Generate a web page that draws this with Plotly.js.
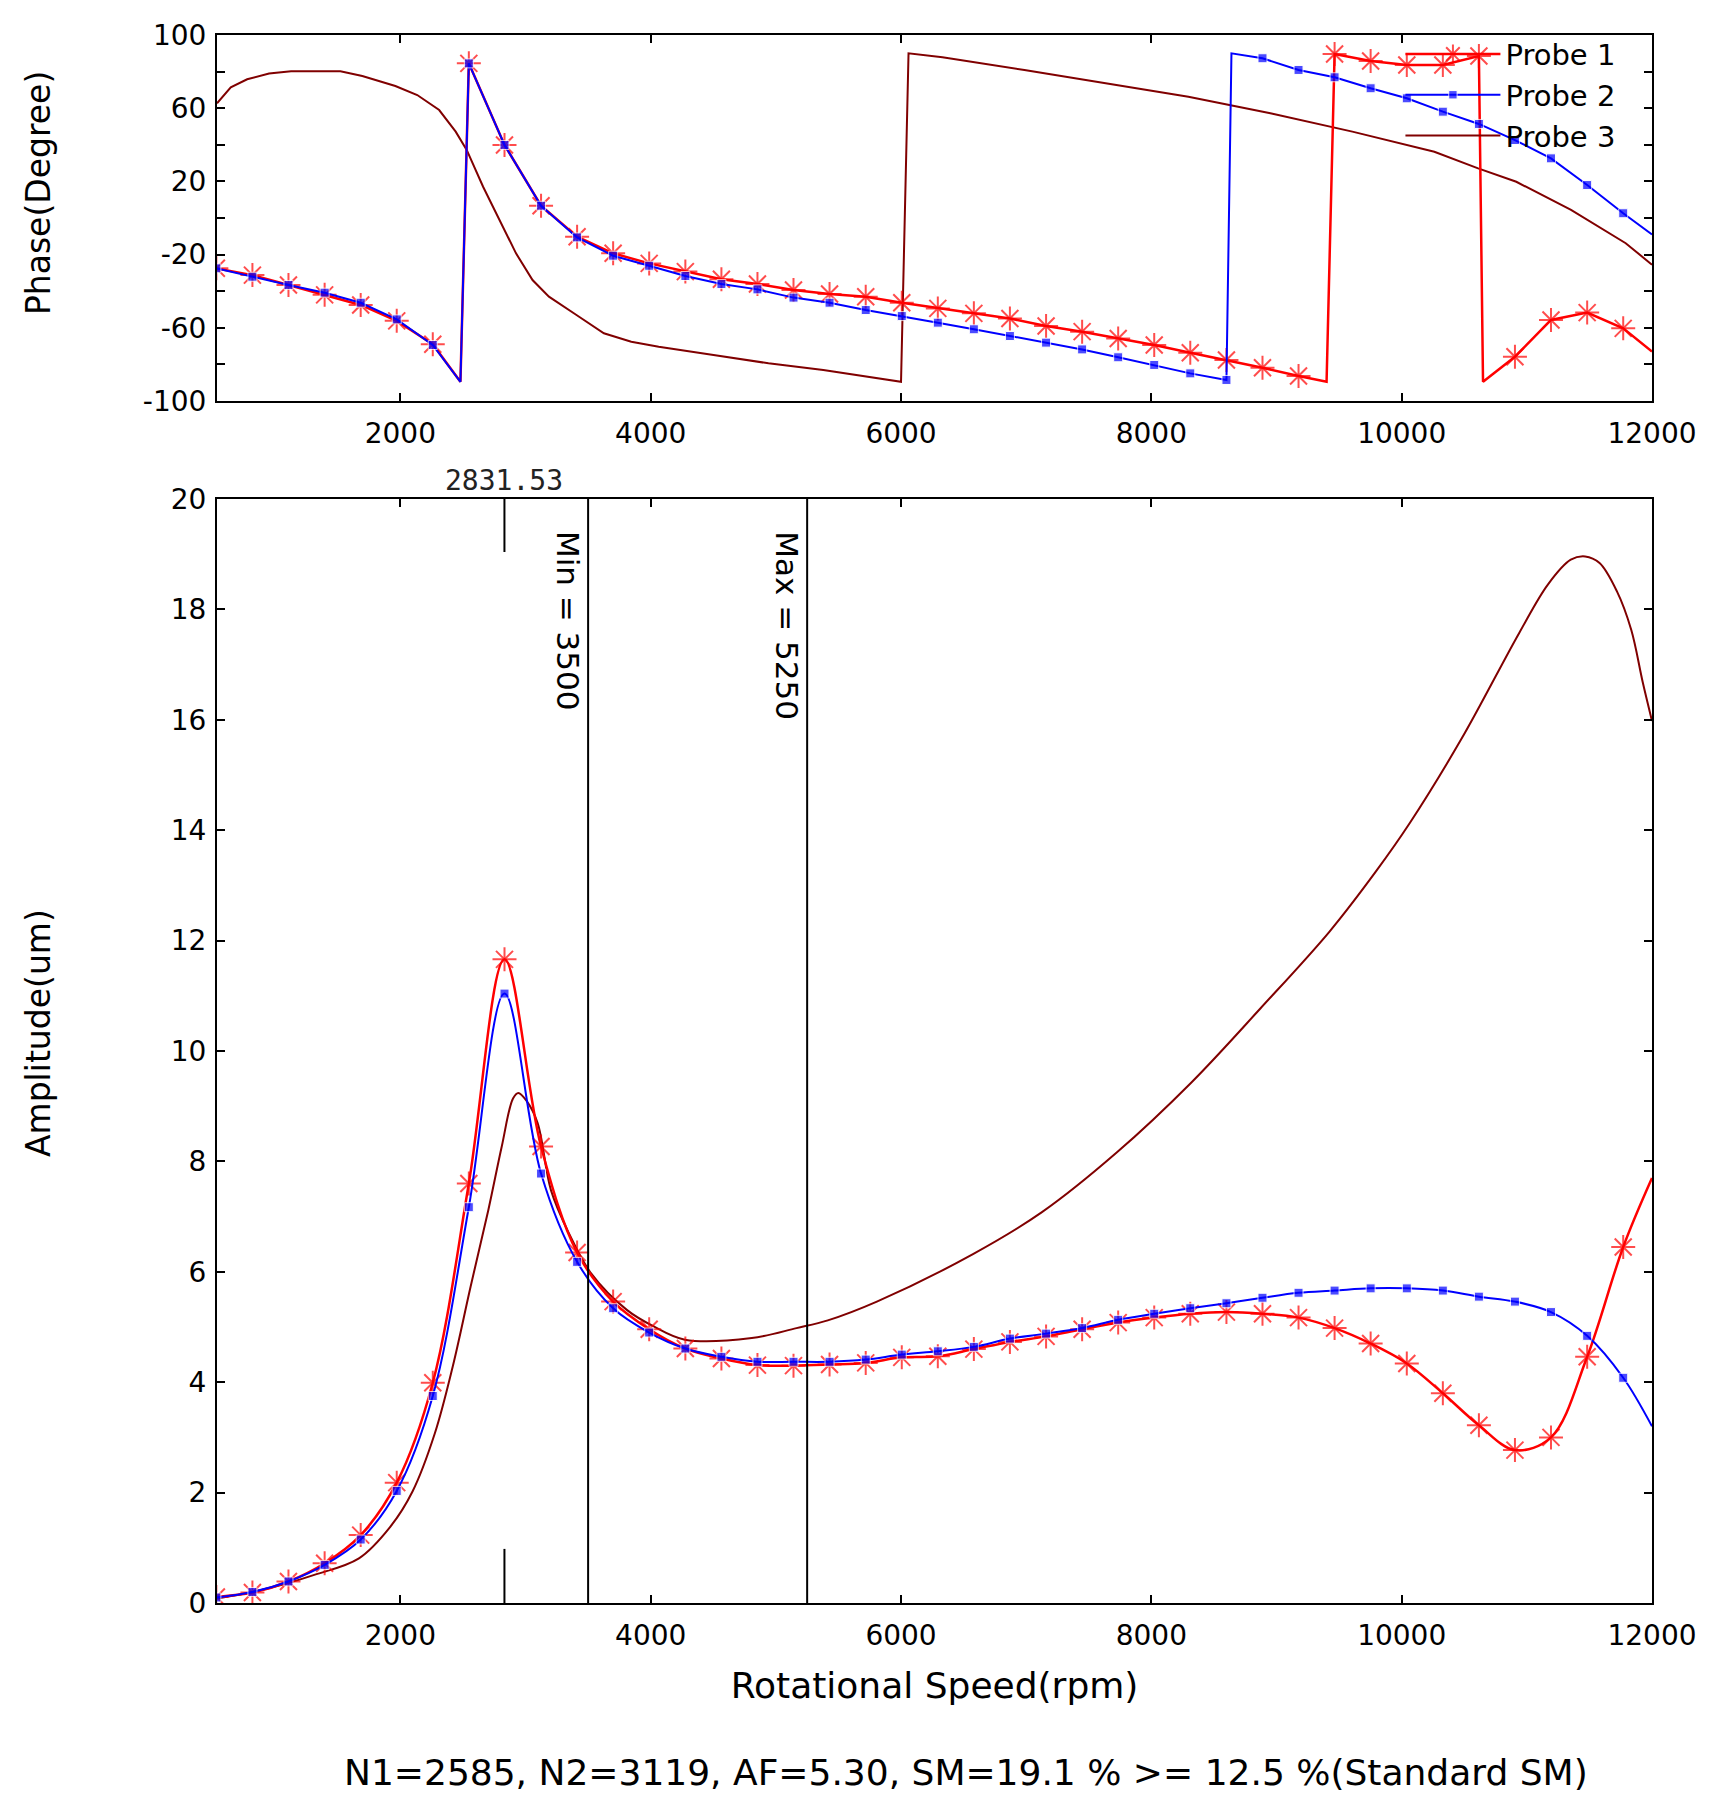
<!DOCTYPE html>
<html>
<head>
<meta charset="utf-8">
<script src="https://cdn.plot.ly/plotly-3.0.1.min.js"></script>
<style>
  body { margin: 0; background: #fff; }
  #graph { width: 1717px; height: 1811px; }
</style>
</head>
<body>
<div id="graph"></div>
<script>
/* ----------------Data---------------- */

// speeds (rpm) where probe 1 and probe 2 have markers
var markerRpm = [530, 818, 1106, 1395, 1683, 1971, 2259, 2547, 2832, 3124,
    3412, 3700, 3988, 4277, 4565, 4853, 5141, 5429, 5718, 6006,
    6294, 6582, 6870, 7159, 7447, 7735, 8023, 8311, 8600, 8888,
    9176, 9464, 9752, 10041, 10329, 10617, 10905, 11193, 11482, 11770];

var phase1 = [-27.5, -31.2, -36.6, -42.0, -47.5, -56.2, -69.0, 84.5, 39.9, 6.7,
    -10.2, -19.3, -24.8, -29.3, -33.5, -36.1, -39.3, -41.5, -43.0, -46.3,
    -49.4, -52.1, -54.9, -59.0, -62.1, -65.8, -69.4, -73.6, -77.6, -81.8,
    -86.3, 89.6, 85.8, 83.6, 83.6, 88.5, -75.8, -55.7, -51.7, -60.3];
var phase2 = [-27.5, -32.1, -36.6, -40.8, -46.3, -55.4, -69.4, 84.5, 39.9, 6.7,
    -10.6, -20.6, -26.1, -31.7, -36.1, -39.0, -43.5, -46.3, -50.3, -53.6,
    -57.2, -60.8, -64.5, -68.1, -71.8, -76.1, -80.3, -84.9, -88.5, 87.3,
    80.9, 76.9, 70.9, 65.4, 58.1, 51.4, 42.6, 32.6, 18.0, 2.6];

var amp1 = [0.11, 0.19, 0.39, 0.72, 1.23, 2.18, 3.99, 7.60, 11.66, 8.27,
    6.35, 5.46, 4.96, 4.61, 4.43, 4.31, 4.30, 4.32, 4.35, 4.45,
    4.47, 4.60, 4.73, 4.83, 4.96, 5.08, 5.17, 5.24, 5.27, 5.24,
    5.17, 4.98, 4.70, 4.34, 3.80, 3.22, 2.77, 3.00, 4.46, 6.45];
var amp2 = [0.10, 0.20, 0.39, 0.69, 1.15, 2.03, 3.75, 7.17, 11.04, 7.78,
    6.18, 5.34, 4.90, 4.61, 4.46, 4.37, 4.37, 4.37, 4.41, 4.50,
    4.56, 4.64, 4.79, 4.88, 4.98, 5.13, 5.24, 5.34, 5.43, 5.53,
    5.62, 5.66, 5.70, 5.70, 5.66, 5.55, 5.46, 5.27, 4.84, 4.08];

// line points with no marker: phase wrap corners and the line ends
var phase1ExtraRpm = [2480, 9400, 10650, 12000];
var phase1Extra = [-89.5, -89.5, -89.5, -73];
var phase2ExtraRpm = [2480, 8640, 12000];
var phase2Extra = [-89.5, 90, -9];
var amp1ExtraRpm = [12000];
var amp1Extra = [7.7];
var amp2ExtraRpm = [12000];
var amp2Extra = [3.2];

// probe 3 has no markers
var phase3Rpm = [535, 645, 776, 951, 1127, 1521, 1696, 1960, 2135, 2310,
    2442, 2530, 2661, 2793, 2924, 3056, 3187, 3407, 3626, 3845,
    4064, 4502, 4941, 5379, 5676, 6000, 6060, 6331, 6986, 7641,
    8296, 8951, 9606, 10261, 10611, 10916, 11353, 11790, 12000];
var phase3 = [62.7, 71.4, 75.8, 79.0, 80.2, 80.2, 77.6, 72.1, 67.2, 59.0,
    47.2, 37.2, 17.1, -1.1, -19.3, -33.9, -43.0, -53.0, -63.0, -67.6,
    -70.3, -74.9, -79.4, -83.1, -86.3, -89.5, 90, 87.8, 80.9, 73.6,
    66.3, 57.2, 47.2, 36.2, 27.1, 19.8, 4.4, -13.8, -25.5];

var amp3Rpm = [535, 955, 1312, 1669, 1919, 2097, 2275, 2418, 2561, 2703,
    2810, 2900, 2943, 3007, 3096, 3203, 3346, 3524, 3809, 4024,
    4273, 4808, 5165, 5415, 5807, 6575, 7126, 7723, 8320, 8871,
    9422, 9790, 10065, 10479, 10938, 11168, 11351, 11466, 11581, 11719,
    11834, 11926, 12000];
var amp3 = [0.08, 0.27, 0.51, 0.81, 1.38, 2.02, 3.07, 4.28, 5.73, 7.12,
    8.27, 9.14, 9.24, 9.10, 8.70, 7.48, 6.70, 5.97, 5.31, 5.01,
    4.77, 4.80, 4.98, 5.12, 5.46, 6.32, 7.08, 8.16, 9.43, 10.77,
    12.16, 13.24, 14.13, 15.66, 17.57, 18.45, 18.90, 18.96, 18.84, 18.33,
    17.63, 16.68, 15.98];

// tick labels
var rpmTicks = [2000, 4000, 6000, 8000, 10000, 12000];
var rpmTickText = ['2000', '4000', '6000', '8000', '10000', '12000'];
var phaseTicks = [-100, -60, -20, 20, 60, 100];
var phaseTickText = ['-100', '-60', '-20', '20', '60', '100'];
var ampTicks = [0, 2, 4, 6, 8, 10, 12, 14, 16, 18, 20];
var ampTickText = ['0', '2', '4', '6', '8', '10', '12', '14', '16', '18', '20'];

var rpmMin = 3500;
var rpmMax = 5250;
var peakRpm = 2831.53;
var summaryText = 'N1=2585, N2=3119, AF=5.30, SM=19.1 % >= 12.5 %(Standard SM)';

/* ----------------Styles---------------- */

var FONT = 'DejaVu Sans, Verdana, sans-serif';
var RED = '#ff0000';
var BLUE = '#0000ff';
var MAROON = '#800000';

/**
 * Merges marker points with extra line points, sorted by rpm.
 * Extra points get marker size 0 so only the line passes through them.
 */
function mergePoints(xs, ys, extraXs, extraYs, size) {
    var pts = [];
    for (var i = 0; i < xs.length; i++) pts.push([xs[i], ys[i], size]);
    for (var j = 0; j < extraXs.length; j++) pts.push([extraXs[j], extraYs[j], 0]);
    pts.sort(function(a, b) { return a[0] - b[0]; });
    return {
        x: pts.map(function(p) { return p[0]; }),
        y: pts.map(function(p) { return p[1]; }),
        size: pts.map(function(p) { return p[2]; })
    };
}

function probe1Trace(pts, xa, ya, shape, legend) {
    return {
        x: pts.x, y: pts.y, xaxis: xa, yaxis: ya,
        mode: 'lines+markers', name: 'Probe 1',
        showlegend: legend, legendrank: 1,
        line: { color: RED, width: 2.5, shape: shape },
        marker: { symbol: 'asterisk-open', size: pts.size,
                  color: RED, line: { color: RED, width: 2 } }
    };
}

function probe2Trace(pts, xa, ya, shape, legend) {
    return {
        x: pts.x, y: pts.y, xaxis: xa, yaxis: ya,
        mode: 'lines+markers', name: 'Probe 2',
        showlegend: legend, legendrank: 2,
        line: { color: BLUE, width: 2, shape: shape },
        marker: { symbol: 'square', size: pts.size, color: BLUE }
    };
}

function probe3Trace(xs, ys, xa, ya, shape, legend) {
    return {
        x: xs, y: ys, xaxis: xa, yaxis: ya,
        mode: 'lines', name: 'Probe 3',
        showlegend: legend, legendrank: 3,
        line: { color: MAROON, width: 2, shape: shape }
    };
}

var p1Phase = mergePoints(markerRpm, phase1, phase1ExtraRpm, phase1Extra, 20);
var p2Phase = mergePoints(markerRpm, phase2, phase2ExtraRpm, phase2Extra, 9);
var p1Amp = mergePoints(markerRpm, amp1, amp1ExtraRpm, amp1Extra, 20);
var p2Amp = mergePoints(markerRpm, amp2, amp2ExtraRpm, amp2Extra, 9);

var data = [
    probe3Trace(phase3Rpm, phase3, 'x2', 'y2', 'linear', true),
    probe1Trace(p1Phase, 'x2', 'y2', 'linear', true),
    probe2Trace(p2Phase, 'x2', 'y2', 'linear', true),
    probe3Trace(amp3Rpm, amp3, 'x', 'y', 'spline', false),
    probe1Trace(p1Amp, 'x', 'y', 'spline', false),
    probe2Trace(p2Amp, 'x', 'y', 'spline', false)
];

var tickFont = { family: FONT, size: 28, color: '#000' };
var titleFont = { family: FONT, size: 33, color: '#000' };

function xAxis(anchor, title) {
    var ax = {
        anchor: anchor, range: [535, 12000], autorange: false,
        tickmode: 'array', tickvals: rpmTicks, ticktext: rpmTickText,
        ticks: 'inside', ticklen: 8, tickwidth: 2, tickcolor: '#000',
        showline: true, linewidth: 2, linecolor: '#000', mirror: 'ticks',
        showgrid: false, zeroline: false,
        ticklabelstandoff: 6,
        tickfont: tickFont
    };
    if (title) ax.title = { text: title, standoff: 22, font: { family: FONT, size: 36, color: '#000' } };
    return ax;
}

function yAxis(domain, range, vals, text) {
    return {
        domain: domain, range: range, autorange: false,
        tickmode: 'array', tickvals: vals, ticktext: text,
        ticks: 'inside', ticklen: 8, tickwidth: 2, tickcolor: '#000',
        showline: true, linewidth: 2, linecolor: '#000', mirror: 'ticks',
        showgrid: false, zeroline: false,
        ticklabelstandoff: 3,
        tickfont: tickFont
    };
}

var yPhase = yAxis([0.76658, 1], [-100, 100], phaseTicks, phaseTickText);
yPhase.minor = { ticks: 'inside', dtick: 20, tick0: 0, ticklen: 8, tickwidth: 2, tickcolor: '#000' };

var layout = {
    width: 1717, height: 1811,
    paper_bgcolor: '#fff', plot_bgcolor: '#fff',
    margin: { l: 217, r: 65, t: 35, b: 208 },
    showlegend: true,
    legend: {
        x: 0.978, xanchor: 'right', y: 1.004, yanchor: 'top',
        bgcolor: 'rgba(0,0,0,0)', borderwidth: 0,
        itemwidth: 95,
        font: { family: FONT, size: 29, color: '#000' }
    },
    xaxis: xAxis('y', 'Rotational Speed(rpm)'),
    xaxis2: xAxis('y2', null),
    yaxis: yAxis([0, 0.70408], [0, 20], ampTicks, ampTickText),
    yaxis2: yPhase,
    shapes: [
        { type: 'line', xref: 'x', yref: 'y', x0: rpmMin, x1: rpmMin, y0: 0, y1: 20, line: { color: '#000', width: 2 } },
        { type: 'line', xref: 'x', yref: 'y', x0: rpmMax, x1: rpmMax, y0: 0, y1: 20, line: { color: '#000', width: 2 } },
        { type: 'line', xref: 'x', yref: 'y', x0: peakRpm, x1: peakRpm, y0: 19.04, y1: 20, line: { color: '#000', width: 2 } },
        { type: 'line', xref: 'x', yref: 'y', x0: peakRpm, x1: peakRpm, y0: 0, y1: 0.98, line: { color: '#000', width: 2 } }
    ],
    annotations: [
        // y axis titles sit a little above the middle of their plots
        { xref: 'paper', yref: 'paper', x: -0.1247, y: 0.8992, xanchor: 'center', yanchor: 'middle',
          text: 'Phase(Degree)', textangle: -90, showarrow: false, font: titleFont },
        { xref: 'paper', yref: 'paper', x: -0.1247, y: 0.3635, xanchor: 'center', yanchor: 'middle',
          text: 'Amplitude(um)', textangle: -90, showarrow: false, font: titleFont },
        { xref: 'x', yref: 'y', x: peakRpm, y: 20, xanchor: 'center', yanchor: 'bottom',
          text: peakRpm.toFixed(2), showarrow: false,
          font: { family: 'DejaVu Sans Mono, monospace', size: 28, color: '#222' } },
        { xref: 'x', yref: 'y', x: rpmMin, y: 20, xanchor: 'right', yanchor: 'top', yshift: -30,
          text: 'Min = ' + rpmMin, textangle: 90, showarrow: false,
          font: { family: FONT, size: 31, color: '#000' } },
        { xref: 'x', yref: 'y', x: rpmMax, y: 20, xanchor: 'right', yanchor: 'top', yshift: -30,
          text: 'Max = ' + rpmMax, textangle: 90, showarrow: false,
          font: { family: FONT, size: 31, color: '#000' } },
        { xref: 'paper', yref: 'paper', x: 0.522, y: -0.1078, xanchor: 'center', yanchor: 'middle',
          text: summaryText, showarrow: false,
          font: { family: FONT, size: 36, color: '#000' } }
    ]
};

var graph = document.getElementById('graph');
Plotly.newPlot(graph, data, layout, { staticPlot: true });
</script>
</body>
</html>
